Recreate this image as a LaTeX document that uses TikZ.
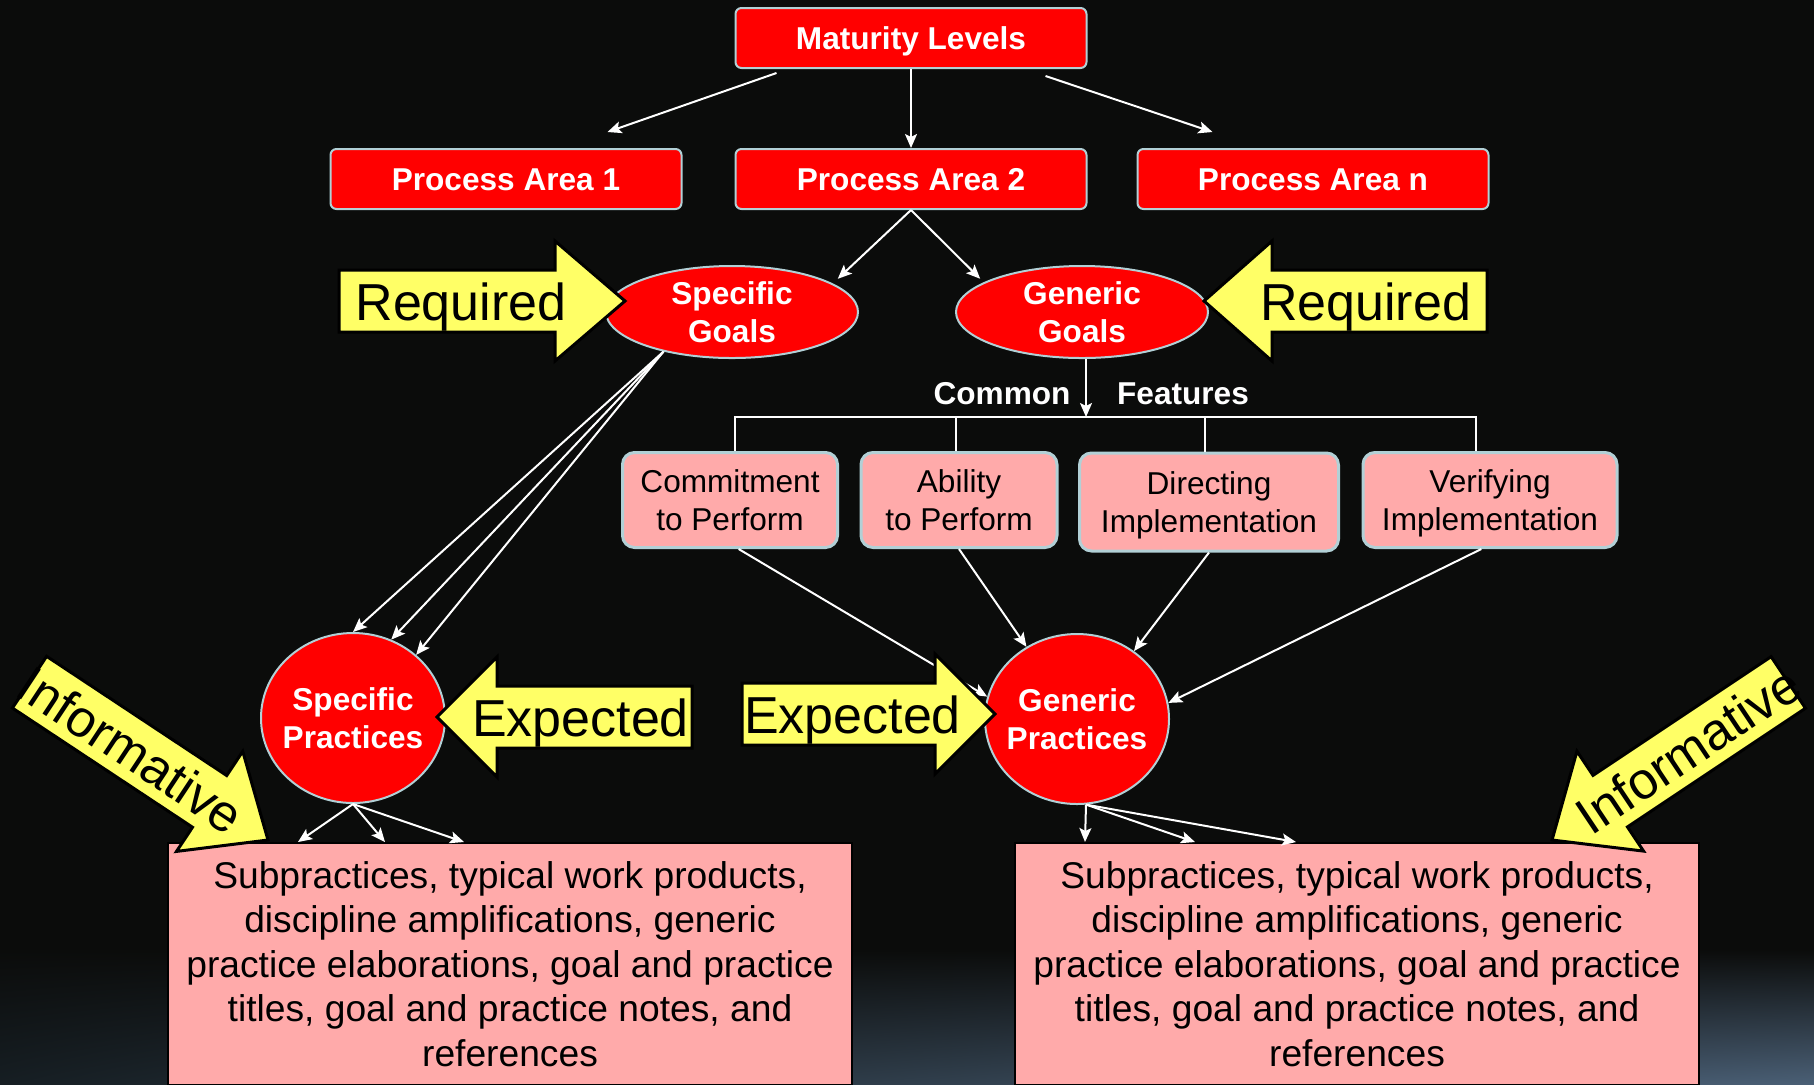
\documentclass[tikz,border=0pt]{standalone}
\usepackage{fontspec}
\setmainfont{Liberation Sans}
\usepackage{xcolor}
\usepackage{tikz}
\usetikzlibrary{arrows.meta,positioning,shapes.geometric,shadings,calc}
\definecolor{backdrop}{HTML}{0B0C0B}
\definecolor{hazeleft}{HTML}{161E23}
\definecolor{hazeright}{HTML}{4A5F75}
\definecolor{boxred}{HTML}{FF0000}
\definecolor{rim}{HTML}{B2D0D6}
\definecolor{softpink}{HTML}{FFAAAA}
\definecolor{callyellow}{HTML}{FFFF66}
\tikzset{
  redbox/.style={draw=rim, line width=1pt, rounded corners=3pt, fill=boxred, text=white, font=\bfseries\fontsize{15.8}{19}\selectfont, minimum width=175.5pt, minimum height=30pt, inner sep=0pt, text height=11.3pt, text depth=0pt},
  goal/.style={ellipse, draw=rim, line width=1pt, fill=boxred, text=white, align=center, font=\bfseries\fontsize{15.8}{19}\selectfont, minimum width=126pt, minimum height=46pt, inner sep=-5pt},
  practice/.style={goal, minimum width=92pt, minimum height=85pt},
  feature/.style={draw=rim, line width=1.5pt, rounded corners=6pt, fill=softpink, align=center, font=\fontsize{15.8}{19}\selectfont, minimum height=47.5pt, inner sep=0pt, text depth=0pt},
  infobox/.style={draw=black, line width=1pt, fill=softpink, align=center, font=\fontsize{18.6}{22.25}\selectfont, minimum width=342pt, minimum height=121pt, anchor=north, inner sep=0pt},
  lbl/.style={text=white, font=\bfseries\fontsize{15.8}{19}\selectfont, inner sep=0pt, anchor=base},
  arrow/.style={-{Stealth[length=7pt,width=6pt,inset=1.5pt]}, draw=white, line width=1pt},
  link/.style={draw=white, line width=1pt},
  callout/.style={draw=black, line width=1.5pt, fill=callyellow, line join=miter},
  callouttext/.style={font=\fontsize{26}{30}\selectfont, inner sep=0pt, text height=19pt, text depth=0pt}
}
% yellow block arrow: #1 tip, #2 turn, #3 body length, #4 head length, #5 text turn, #6 text
\newcommand{\callout}[6]{%
  \begin{scope}[shift={#1}, rotate=#2]
    \draw[callout] (0,0) -- (-#4,-60) -- (-#4,-31) -- ({-#4-#3},-31) -- ({-#4-#3},31) -- (-#4,31) -- (-#4,60) -- cycle;
    \node[callouttext, rotate=#5] at ({-#4-#3/2+14},0) {#6};
  \end{scope}}

\begin{document}
\begin{tikzpicture}[x=0.5pt, y=-0.5pt]
  \useasboundingbox (0,0) rectangle (1814,1084);
  \fill[backdrop] (0,0) rectangle (1814,1084);
  \shade[upper left=backdrop, upper right=backdrop, lower left=hazeleft, lower right=hazeright] (0,950) rectangle (1814,1084);

  % hierarchy
  \node[redbox] (ml) at (911,38) {Maturity Levels};
  \node[redbox] (pa1) at (506,179) {Process Area 1};
  \node[redbox] (pa2) at (911,179) {Process Area 2};
  \node[redbox] (pan) at (1313,179) {Process Area n};
  \node[goal] (sg) at (732,312) {Specific\\Goals};
  \node[goal] (gg) at (1082,312) {Generic\\Goals};

  % common features
  \coordinate (cf) at (1086,417);
  \node[lbl] (common) at (1002,404) {Common};
  \node[lbl] (features) at (1183,404) {Features};
  \node[feature, minimum width=107.5pt] (cp) at (730,500) {Commitment\\to Perform};
  \node[feature, minimum width=98pt] (ab) at (959,500) {Ability\\to Perform};
  \node[feature, minimum width=129.5pt, minimum height=49pt] (di) at (1209,502) {Directing\\Implementation};
  \node[feature, minimum width=127pt] (ve) at (1490,500) {Verifying\\Implementation};

  \node[practice] (sp) at (353,718) {Specific\\Practices};
  \node[practice] (gp) at (1077,719) {Generic\\Practices};

  \node[infobox] (lb) at (510,842) {Subpractices, typical work products,\\discipline amplifications, generic\\practice elaborations, goal and practice\\titles, goal and practice notes, and\\references};
  \node[infobox] (rb) at (1357,842) {Subpractices, typical work products,\\discipline amplifications, generic\\practice elaborations, goal and practice\\titles, goal and practice notes, and\\references};

  % connectors
  \draw[arrow] ([shift={(21pt,-2pt)}]ml.south west) -- ([shift={(-37.5pt,8pt)}]pa1.north east);
  \draw[arrow] (ml) -- (pa2);
  \draw[arrow] ([shift={(-21pt,-3.5pt)}]ml.south east) -- ([shift={(38pt,8pt)}]pan.north west);
  \draw[arrow] (pa2.south) -- ([xshift=8pt]sg.north east);
  \draw[arrow] (pa2.south) -- ([xshift=-6pt]gg.north west);
  \foreach \a in {90,64,45}
    \draw[arrow] (sg.210) -- (sp.\a);

  \draw[arrow] (gg.south -| cf) -- (cf);
  \draw[link] (cp.84) |- (cf) -| (ve.106);
  \draw[link] (ab.94) -- (ab.94 |- cf);
  \draw[link] (di.95) -- (di.95 |- cf);

  \draw[arrow] (cp.-80) -- (gp.166);
  \draw[arrow] (ab.south) -- (gp.125);
  \draw[arrow] (di.south) -- (gp.50);
  \draw[arrow] (ve.-100) -- (gp.10);

  \foreach \dx in {65.5,109,148.5}
    \draw[arrow] (sp.south) -- ([xshift=\dx pt]lb.north west);
  \foreach \dx in {35.5,90.5,141}
    \draw[arrow] (gp.-84) -- ([xshift=\dx pt]rb.north west);

  % yellow callouts
  \callout{(625,301)}{0}{216}{70}{0}{Required}
  \callout{(1204,301)}{180}{215}{68}{0}{Required}
  \callout{(437,717)}{180}{195}{60}{0}{Expected}
  \callout{(995,714)}{0}{193}{60}{0}{Expected}
  \callout{(268,840)}{-33.5}{216}{70}{-33.5}{Informative}
  \callout{(1552,840)}{213.7}{214}{70}{33.7}{Informative}
\end{tikzpicture}
\end{document}
